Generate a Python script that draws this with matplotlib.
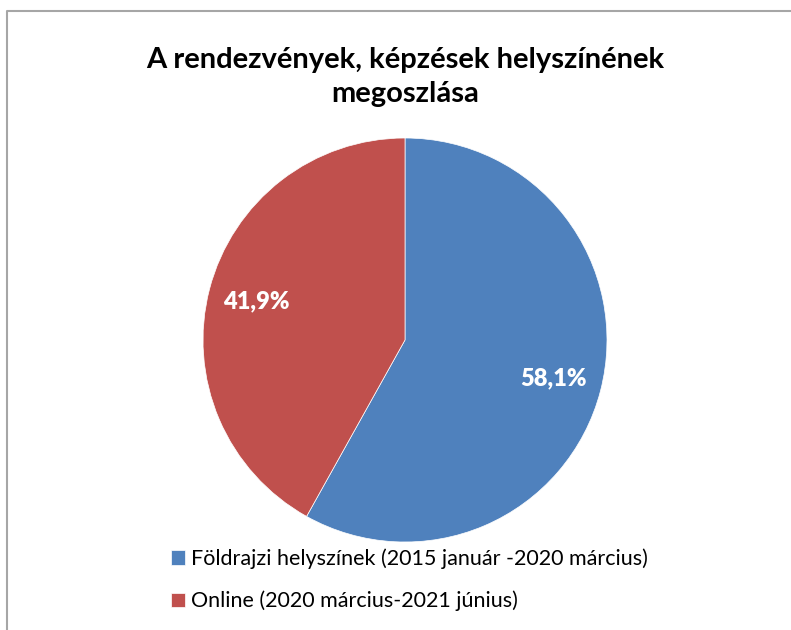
import matplotlib
matplotlib.use("Agg")
import matplotlib.pyplot as plt
from matplotlib.lines import Line2D

# Adatok
kategoriak = ["Földrajzi helyszínek (2015 január -2020 március)",
              "Online (2020 március-2021 június)"]
ertekek = [58.1, 41.9]
szinek = ["#4F81BD", "#C0504D"]
cim = "A rendezvények, képzések helyszínének\nmegoszlása"

plt.rcParams["font.family"] = ["Lato", "DejaVu Sans"]

W, H = 791, 630
fig = plt.figure(figsize=(W / 100, H / 100), dpi=100)
fig.patch.set_facecolor("white")

# Keret (bal és felső él)
fig.add_artist(Line2D([7 / W, 7 / W, 1], [0, 1 - 11 / H, 1 - 11 / H],
                      transform=fig.transFigure, color="#A6A6A6", lw=1.5))

# Cím
fig.text(405 / W, 1 - 77 / H, cim, ha="center", va="center", fontsize=21,
         fontweight="bold", linespacing=1.38, color="black")

# Kördiagram
cx, cy, r = 405, 340, 202
ax = fig.add_axes([(cx - r) / W, (H - cy - r) / H, 2 * r / W, 2 * r / H])
wedges, _, autotexts = ax.pie(ertekek, colors=szinek, startangle=90, counterclock=False,
                              autopct=lambda p: f"{p:.1f}%".replace(".", ","),
                              pctdistance=0.76, radius=1,
                              textprops=dict(color="white", fontsize=17, fontweight="heavy"),
                              wedgeprops=dict(linewidth=0.5, edgecolor="white"))
ax.set_xlim(-1, 1)
ax.set_ylim(-1, 1)
ax.set_aspect("equal")
ax.axis("off")

# Jelmagyarázat
fig.legend(wedges, kategoriak, loc="center left", bbox_to_anchor=(162 / W, 1 - 580 / H),
           frameon=False, fontsize=15.5, handlelength=0.65, handleheight=0.65,
           handletextpad=0.3, labelspacing=1.0, borderaxespad=0)

fig.savefig("out.png", dpi=100)
